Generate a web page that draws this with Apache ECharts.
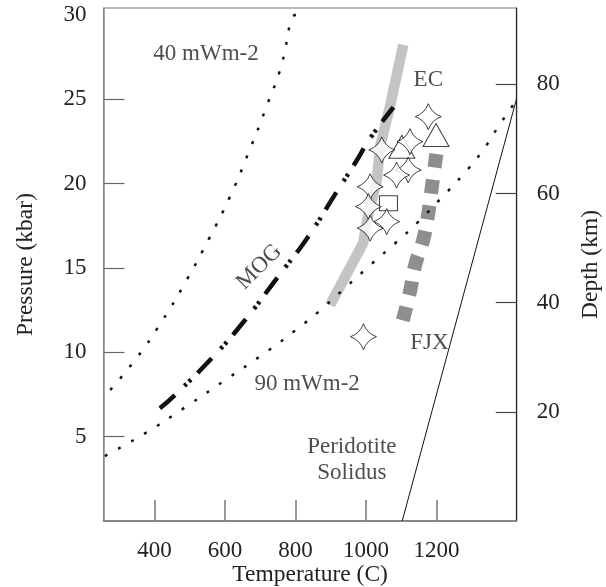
<!DOCTYPE html>
<html><head><meta charset="utf-8">
<script src="https://cdn.jsdelivr.net/npm/echarts@6/dist/echarts.min.js"></script>
<style>html,body{margin:0;padding:0;background:#fff}#c{width:606px;height:587px}</style>
</head><body><div id="c"></div>
<script>
// ---- data (Temperature °C, Pressure kbar) ----
const tempTicks = [400, 600, 800, 1000, 1200];
const pressureTicks = [5, 10, 15, 20, 25, 30];
const pressureTickMarks = [5, 10, 15, 20, 25];
const depthTicks = [20, 40, 60, 80];

const geotherm40 = [[801,30.0],[789,29.79],[761,27.08],[716,24.46],[666,21.79],[614,19.22],[555,16.75],[491,14.28],[420,11.81],[346,9.58],[259,7.41]];
const geotherm90 = [[259,3.85],[378,5.26],[489,6.77],[597,8.30],[709,9.90],[816,11.56],[884,12.74],[950,13.99],[1016,15.23],[1083,16.46],[1149,17.74],[1210,19.06],[1272,20.44],[1329,21.88],[1379,23.47],[1428,24.95]];
const mogCurve = [[415,6.68],[458,7.47],[562,9.64],[657,11.91],[747,14.38],[836,16.85],[917,19.51],[969,21.20],[1012,22.68],[1078,24.52]];
const ecPath = [[1106,28.21],[1068,24.55],[1040,22.18],[1031,20.21],[1007,18.23],[992,16.46],[898,12.80]];
const fjxPath = [[1200,21.75],[1187,19.77],[1177,18.23],[1163,16.69],[1139,15.11],[1125,13.59],[1101,11.61]];
const solidus = [[1103,0],[1428,25.05]];

const starPoints = [[1177,23.96],[1045,21.99],[1125,22.48],[1120,20.80],[1087,20.50],[1012,19.81],[1007,18.63],[1012,17.35],[1059,17.74],[993,10.92]];
const trianglePoints = [[1199,22.87],[1102,22.18]];
const squarePoints = [[1064,18.83]];

const annotations = [
  {name:'40 mWm-2', value:[546,27.65], rot:0},
  {name:'EC', value:[1177,26.15], rot:0},
  {name:'MOG', value:[697,15.05], rot:45},
  {name:'90 mWm-2', value:[833,8.12], rot:0},
  {name:'FJX', value:[1180,10.55], rot:0},
  {name:'Peridotite\nSolidus', value:[960,3.6], rot:0}
];

const FONT = "'Liberation Serif','Times New Roman',serif";
const starPath = 'path://M0,-10 Q2.6,-2.6 10,0 Q2.6,2.6 0,10 Q-2.6,2.6 -10,0 Q-2.6,-2.6 0,-10 Z';
const openStyle = {color:'#fff', borderColor:'#111', borderWidth:1};
const plain = v => String(v);

const chart = echarts.init(document.getElementById('c'), null, {renderer:'canvas'});
chart.setOption({
  animation:false,
  backgroundColor:'#fff',
  grid:{left:103.5, right:89.3, top:8, bottom:66, show:true, borderColor:'#777', borderWidth:1,
        containLabel:false, outerBoundsMode:'none'},
  xAxis:{
    type:'value', min:255, max:1428,
    name:'Temperature (C)', nameLocation:'middle', nameGap:42, nameMoveOverlap:false,
    nameTextStyle:{fontFamily:FONT, fontSize:23.5, color:'#222'},
    axisLine:{lineStyle:{color:'#777', width:1.5}},
    axisTick:{inside:true, length:21, lineStyle:{color:'#777', width:1.5}, customValues:tempTicks},
    axisLabel:{fontFamily:FONT, fontSize:23, color:'#222', margin:18, customValues:tempTicks, formatter:plain},
    splitLine:{show:false}
  },
  yAxis:[{
    type:'value', min:0, max:30.4, position:'left',
    name:'Pressure (kbar)', nameLocation:'middle', nameGap:66, nameMoveOverlap:false,
    nameTextStyle:{fontFamily:FONT, fontSize:23.5, color:'#222'},
    axisLine:{lineStyle:{color:'#888', width:1.5}},
    axisTick:{inside:true, length:21, lineStyle:{color:'#666', width:1.2}, customValues:pressureTickMarks},
    axisLabel:{fontFamily:FONT, fontSize:23, color:'#222', margin:17, customValues:pressureTicks, formatter:plain},
    splitLine:{show:false}
  },{
    type:'value', min:0, max:94, position:'right',
    name:'Depth (km)', nameLocation:'middle', nameGap:62, nameMoveOverlap:false,
    nameTextStyle:{fontFamily:FONT, fontSize:23.5, color:'#222'},
    axisLine:{lineStyle:{color:'#222', width:1.2}},
    axisTick:{inside:true, length:21, lineStyle:{color:'#444', width:1.2}, customValues:depthTicks},
    axisLabel:{fontFamily:FONT, fontSize:23, color:'#222', margin:20, customValues:depthTicks, formatter:plain},
    splitLine:{show:false}
  }],
  series:[
    {type:'line', name:'EC', data:ecPath, showSymbol:false, smooth:false,
     lineStyle:{color:'#c4c4c4', width:10.5, cap:'butt', join:'round'}, z:1},
    {type:'line', name:'FJX', data:fjxPath, showSymbol:false, smooth:true,
     lineStyle:{color:'#8e8e8e', width:14, type:[14,12], cap:'butt'}, z:1},
    {type:'line', name:'40 mWm-2', data:geotherm40, showSymbol:false, smooth:true,
     lineStyle:{color:'#111', width:2.5, type:[3,12]}, z:2},
    {type:'line', name:'90 mWm-2', data:geotherm90, showSymbol:false, smooth:true,
     lineStyle:{color:'#111', width:2.5, type:[3,12]}, z:2},
    {type:'line', name:'MOG', data:mogCurve, showSymbol:false, smooth:true,
     lineStyle:{color:'#111', width:4.5, type:[20,13,3,3,3,10]}, z:2},
    {type:'line', name:'Peridotite Solidus', data:solidus, showSymbol:false,
     lineStyle:{color:'#111', width:1}, z:2},
    {type:'scatter', name:'stars', data:starPoints, symbol:starPath, symbolSize:26, itemStyle:openStyle, z:5},
    {type:'scatter', name:'triangles', data:trianglePoints, symbol:'triangle', symbolSize:[26,23], itemStyle:openStyle, z:4},
    {type:'scatter', name:'squares', data:squarePoints, symbol:'rect', symbolSize:[18,15], itemStyle:openStyle, z:4},
    {type:'scatter', name:'labels', data:annotations.map(a=>({name:a.name, value:a.value,
       label:{rotate:a.rot}})), symbolSize:0, silent:true,
     label:{show:true, position:'inside', formatter:p=>p.name, fontFamily:FONT, fontSize:23, color:'#222', lineHeight:26, align:'center', verticalAlign:'middle'}, z:6}
  ]
});
</script></body></html>
